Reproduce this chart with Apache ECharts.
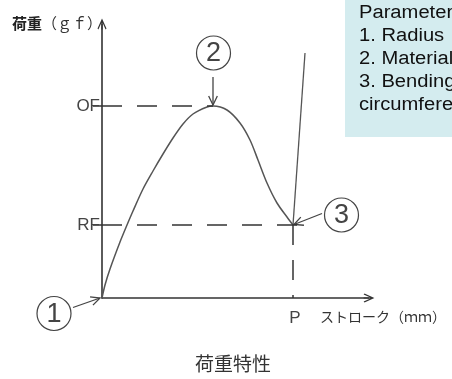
<!DOCTYPE html>
<html>
<head>
<meta charset="utf-8">
<script src="https://cdn.jsdelivr.net/npm/echarts@6/dist/echarts.min.js"></script>
<style>
  html, body { margin: 0; padding: 0; background: #fff; }
  #chart { width: 452px; height: 379px; }
</style>
</head>
<body>
<div id="chart"></div>
<script>
  // 荷重特性の曲線 (ストローク, 荷重) 図から読み取り
  const curvePoints = [
    [0, 0], [3, 13], [8, 29], [18, 56], [25, 73], [31, 87], [41, 109],
    [51, 127], [61, 144], [71, 160], [81, 174], [91, 184], [105, 191],
    [111, 192], [125, 188], [138, 175], [148, 158], [156, 138],
    [165, 115], [175, 95], [185, 81], [191, 73]
  ]
  const reboundPoints = [[191, 73], [203, 245]]

  const peakStroke = 111
  const ofLoad = 192
  const pStroke = 191
  const rfLoad = 73

  const yMarks = [rfLoad, ofLoad]
  const yMarkNames = ['RF', 'OF']
  const xMarks = [pStroke]
  const xMarkNames = ['P']

  const calloutNames = ['1', '2', '3']
  const calloutTargets = [[0, 0], [peakStroke, ofLoad], [pStroke, rfLoad]]

  const paramLines = ['Parameter', '1. Radius', '2. Material', '3. Bending', 'circumfere']

  // 丸数字と矢印の位置 (対象点からのピクセルずれ)
  const calloutLayout = [
    { c: [-48, 15.5], from: [-29, 9.5], to: [-2, 0] },
    { c: [0.5, -53], from: [0, -29], to: [0, -1] },
    { c: [48.5, -10], from: [29, -11.5], to: [1, -0.5] }
  ]

  const ink = '#333'
  const arrowPath = 'path://M5,0L10,11L9,12L5,3.2L1,12L0,11Z M4.4,1L5.6,1L5.6,12L4.4,12Z'

  function renderCallout(params, api) {
    const i = params.dataIndex
    const p = api.coord([api.value(0), api.value(1)])
    const L = calloutLayout[i]
    const cx = p[0] + L.c[0], cy = p[1] + L.c[1]
    const x1 = p[0] + L.from[0], y1 = p[1] + L.from[1]
    const x2 = p[0] + L.to[0], y2 = p[1] + L.to[1]
    const ang = Math.atan2(y2 - y1, x2 - x1)
    const head = 10, spread = 0.45
    const h1 = [x2 - head * Math.cos(ang - spread), y2 - head * Math.sin(ang - spread)]
    const h2 = [x2 - head * Math.cos(ang + spread), y2 - head * Math.sin(ang + spread)]
    return {
      type: 'group',
      children: [
        { type: 'circle', shape: { cx: cx, cy: cy, r: 17 }, style: { fill: '#fff', stroke: '#444', lineWidth: 1.2 } },
        {
          type: 'text', x: cx, y: cy + 1,
          style: { text: calloutNames[i], fill: '#444', font: '27px "Liberation Sans"', align: 'center', verticalAlign: 'middle' }
        },
        { type: 'line', shape: { x1: x1, y1: y1, x2: x2, y2: y2 }, style: { stroke: '#444', lineWidth: 1.3 } },
        { type: 'polyline', shape: { points: [h1, [x2, y2], h2] }, style: { stroke: '#444', lineWidth: 1.3, fill: null } }
      ]
    }
  }

  const chart = echarts.init(document.getElementById('chart'))
  const option = {
    animation: false,
    backgroundColor: '#fff',
    title: {
      text: '荷重特性',
      left: 190,
      top: 349,
      textStyle: { fontSize: 19, fontWeight: 'normal', color: '#333', fontFamily: 'Noto Sans CJK JP' }
    },
    grid: { left: 102, top: 24, width: 267, height: 274 },
    xAxis: {
      type: 'value',
      min: 0,
      max: 267,
      axisLine: {
        show: true,
        lineStyle: { color: ink, width: 1.6 },
        symbol: ['none', arrowPath],
        symbolSize: [9, 12]
      },
      axisTick: { show: false },
      axisLabel: {
        customValues: xMarks,
        formatter: v => xMarkNames[xMarks.indexOf(v)],
        margin: 12,
        padding: [0, 0, 0, 4],
        fontSize: 17,
        color: '#444',
        fontFamily: 'Liberation Sans'
      },
      splitLine: { show: false }
    },
    yAxis: {
      type: 'value',
      min: 0,
      max: 274,
      axisLine: {
        show: true,
        lineStyle: { color: ink, width: 1.6 },
        symbol: ['none', arrowPath],
        symbolSize: [9, 12]
      },
      axisTick: {
        show: true,
        customValues: yMarks,
        length: 9,
        lineStyle: { color: ink, width: 1.5 }
      },
      axisLabel: {
        customValues: yMarks,
        formatter: v => yMarkNames[yMarks.indexOf(v)],
        margin: 2,
        fontSize: 17,
        color: '#444',
        fontFamily: 'Liberation Sans'
      },
      splitLine: { show: false }
    },
    graphic: [
      { type: 'rect', shape: { x: 345, y: 0, width: 107, height: 137 }, style: { fill: '#d4ecef' } },
      {
        type: 'text', x: 359, y: 2, scaleX: 1.12,
        style: { text: paramLines.join('\n'), font: '18px "Liberation Sans"', lineHeight: 23, fill: '#111', verticalAlign: 'top' }
      },
      {
        type: 'text', x: 12, y: 23,
        style: { text: '荷重', font: 'bold 15px "Noto Sans CJK JP"', fill: '#222', verticalAlign: 'middle' }
      },
      {
        type: 'text', x: 42, y: 23,
        style: { text: '（ｇｆ）', font: '15px "Noto Sans CJK JP"', fill: '#333', verticalAlign: 'middle' }
      },
      {
        type: 'text', x: 320, y: 317,
        style: { text: 'ストローク（ｍｍ）', font: '14px "Noto Sans CJK JP"', fill: '#333', verticalAlign: 'middle' }
      }
    ],
    series: [
      {
        name: '荷重',
        type: 'line',
        data: curvePoints,
        smooth: 0.3,
        showSymbol: false,
        lineStyle: { color: '#555', width: 1.5 },
        emphasis: { disabled: true },
        markLine: {
          silent: true,
          symbol: ['none', 'none'],
          label: { show: false },
          lineStyle: { color: ink, width: 1.5, type: [20, 15] },
          data: [
            [{ coord: [0, ofLoad] }, { coord: [peakStroke, ofLoad] }],
            [{ coord: [0, rfLoad] }, { coord: [pStroke + 7, rfLoad] }],
            [{ coord: [pStroke, rfLoad] }, { coord: [pStroke, 0] }]
          ]
        }
      },
      {
        name: '戻り',
        type: 'line',
        data: reboundPoints,
        showSymbol: false,
        lineStyle: { color: '#555', width: 1.3 },
        emphasis: { disabled: true }
      },
      {
        name: '注記',
        type: 'custom',
        data: calloutTargets,
        renderItem: renderCallout,
        silent: true
      }
    ]
  }
  chart.setOption(option)
</script>
</body>
</html>
